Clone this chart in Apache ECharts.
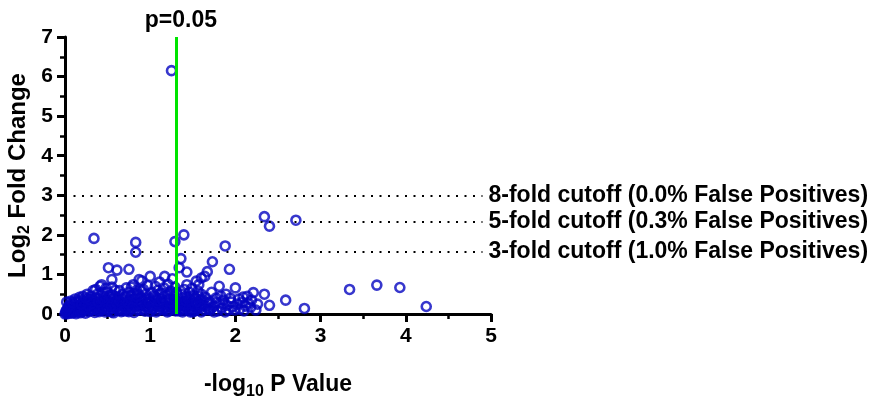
<!DOCTYPE html>
<html>
<head>
<meta charset="utf-8">
<script src="https://cdn.jsdelivr.net/npm/echarts@6/dist/echarts.min.js"></script>
<style>html,body{margin:0;padding:0;background:#fff;overflow:hidden;}#c{width:877px;height:405px;}</style>
</head>
<body>
<div id="c"></div>
<script>
// -log10 P value vs Log2 fold change
var clusterPoints = [
[0.00,0.00],[0.01,0.02],[0.02,0.05],[0.03,0.01],[0.04,0.08],[0.05,0.03],[0.06,0.12],[0.07,0.06],[0.08,0.02],[0.09,0.10],[0.10,0.04],[0.11,0.15],[0.12,0.07],[0.13,0.01],[0.14,0.11],[0.15,0.05],[0.02,0.10],[0.05,0.14],[0.08,0.17],[0.03,0.12],[0.01,0.07],[0.12,0.18],[0.15,0.20],
[0.16,0.09],[0.17,0.22],[0.18,0.03],[0.19,0.14],[0.20,0.27],[0.21,0.08],[0.22,0.18],[0.23,0.32],[0.24,0.02],[0.25,0.12],[0.26,0.24],[0.27,0.38],[0.28,0.06],[0.29,0.17],[0.30,0.29],[0.31,0.45],[0.32,0.10],[0.33,0.21],[0.34,0.34],[0.35,0.04],[0.36,0.15],[0.37,0.27],[0.38,0.50],[0.39,0.09],[0.40,0.20],[0.21,0.45],[0.33,0.59],[0.26,0.50],[0.18,0.35],[0.36,0.62],[0.40,0.38],
[0.41,0.70],[0.42,0.31],[0.43,0.74],[0.44,0.12],[0.45,0.25],[0.46,0.44],[0.47,0.05],[0.48,0.18],[0.49,0.36],[0.50,0.55],[0.51,0.08],[0.52,0.22],[0.53,0.40],[0.54,0.30],[0.55,0.14],[0.56,0.48],[0.57,0.03],[0.58,0.26],[0.59,0.60],[0.60,0.17],[0.61,0.35],[0.62,0.10],[0.63,0.45],[0.64,0.59],[0.65,0.24],[0.66,0.06],[0.67,0.38],[0.68,0.50],[0.69,0.15],[0.70,0.30],[0.44,0.55],[0.48,0.65],[0.55,0.68],
[0.71,0.44],[0.72,0.66],[0.73,0.08],[0.74,0.20],[0.75,0.55],[0.76,0.34],[0.77,0.12],[0.78,0.46],[0.79,0.27],[0.80,0.74],[0.81,0.04],[0.82,0.38],[0.83,0.18],[0.84,0.60],[0.85,0.30],[0.86,0.50],[0.87,0.87],[0.88,0.10],[0.89,0.42],[0.90,0.84],[0.91,0.23],[0.92,0.62],[0.93,0.35],[0.94,0.07],[0.95,0.50],[0.96,0.28],[0.97,0.72],[0.98,0.15],[0.99,0.40],[1.00,0.95],[0.78,0.68],[0.90,0.58],
[1.01,0.30],[1.02,0.55],[1.03,0.12],[1.04,0.45],[1.05,0.22],[1.06,0.70],[1.07,0.05],[1.08,0.36],[1.09,0.60],[1.10,0.18],[1.11,0.81],[1.12,0.40],[1.13,0.28],[1.14,0.52],[1.15,0.10],[1.16,0.66],[1.17,0.95],[1.18,0.33],[1.19,0.20],[1.20,0.48],[1.21,0.75],[1.22,0.08],[1.23,0.38],[1.24,0.58],[1.25,0.25],[1.26,0.89],[1.27,0.15],[1.28,0.44],[1.29,0.68],[1.30,0.30],
[1.31,0.55],[1.32,0.12],[1.33,0.40],[1.34,1.17],[1.35,0.22],[1.36,1.40],[1.37,0.50],[1.38,0.05],[1.39,0.33],[1.40,0.62],[1.41,0.18],[1.42,0.45],[1.43,0.74],[1.43,1.06],[1.44,0.28],[1.45,0.10],[1.46,0.55],[1.47,0.38],[1.48,0.20],[1.49,0.65],[1.50,0.30],[1.51,0.48],[1.52,0.08],[1.53,0.40],[1.54,0.83],[1.55,0.25],[1.56,0.58],[1.57,0.74],[1.58,0.15],[1.59,0.35],[1.60,0.91],[1.60,0.50],
[1.62,0.22],[1.64,0.95],[1.65,0.42],[1.67,1.07],[1.68,0.12],[1.70,0.30],[1.72,0.55],[1.73,1.32],[1.75,0.20],[1.77,0.40],[1.79,0.08],[1.81,0.70],[1.82,0.28],[1.84,0.15],[1.86,0.35],[1.88,1.72],[1.89,0.50],[1.90,0.22],[1.92,0.10],[1.93,1.13],[1.95,0.30],[1.97,0.18],[2.00,0.66],[2.02,0.25],[2.05,0.12],[2.08,0.30],[2.09,0.43],[2.12,0.20],[2.15,0.28],[2.18,0.17],[2.21,0.54],[2.19,0.35],
[0.05,0.22],[0.10,0.25],[0.15,0.28],[0.20,0.05],[0.25,0.33],[0.30,0.10],[0.35,0.22],[0.40,0.06],[0.45,0.15],[0.50,0.28],[0.55,0.05],[0.60,0.30],[0.65,0.12],[0.70,0.20],[0.75,0.06],[0.80,0.25],[0.85,0.10],[0.90,0.32],[0.95,0.18],[1.00,0.06],[1.05,0.30],[1.10,0.10],[1.15,0.25],[1.20,0.05],[1.25,0.15],[1.30,0.08],[1.35,0.30],[1.40,0.10],[1.45,0.22],[1.50,0.05],[1.55,0.12],[1.60,0.05],[1.65,0.20],[1.70,0.10],[1.75,0.05],
[0.02,0.30],[0.07,0.33],[0.12,0.38],[0.17,0.42],[0.22,0.12],[0.27,0.20],[0.32,0.26],[0.37,0.40],[0.42,0.10],[0.47,0.32],[0.52,0.46],[0.57,0.18],[0.62,0.40],[0.67,0.22],[0.72,0.14],[0.77,0.38],[0.82,0.52],[0.87,0.22],[0.92,0.12],[0.97,0.36],[1.02,0.20],[1.07,0.42],[1.12,0.52],[1.17,0.16],[1.22,0.30],[1.27,0.52],[1.32,0.22],[1.37,0.14],[1.42,0.32],[1.47,0.05],[1.52,0.20],[1.57,0.45],[1.62,0.35],[1.67,0.28],[1.72,0.15],[1.78,0.30],[1.83,0.45],[1.88,0.05],[1.94,0.40],[1.99,0.10],[2.04,0.38],[2.10,0.08],[2.14,0.45],[2.24,0.10],[2.26,0.25],
[0.04,0.18],[0.09,0.28],[0.14,0.32],[0.19,0.24],[0.24,0.40],[0.29,0.35],[0.34,0.12],[0.39,0.30],[0.44,0.38],[0.49,0.12],[0.54,0.20],[0.59,0.42],[0.64,0.32],[0.69,0.08],[0.74,0.28],[0.79,0.16],[0.84,0.44],[0.89,0.26],[0.94,0.22],[0.99,0.28],[1.04,0.14],[1.09,0.26],[1.14,0.36],[1.19,0.12],[1.24,0.20],[1.29,0.36],[1.34,0.08],[1.39,0.24],[1.44,0.40],[1.49,0.14],[1.54,0.30],[1.59,0.22],[1.64,0.10]
];
var outlierPoints = [
[1.25,6.15],[0.34,1.91],[0.83,1.81],[0.83,1.56],[1.29,1.83],[1.395,2.00],[2.34,2.46],[2.40,2.22],[2.71,2.37],
[2.34,0.50],[2.40,0.22],[2.59,0.35],[2.81,0.14],[3.34,0.62],[3.66,0.73],[3.93,0.67],[4.24,0.19],
[0.51,1.17],[0.61,1.11],[0.75,1.13],[0.55,0.87]
];
var xTicks = [0, 1, 2, 3, 4, 5];
var yTicks = [0, 1, 2, 3, 4, 5, 6, 7];
var pCutoff = 1.301;          // -log10(0.05)
var pLabel = 'p=0.05';
var foldCutoffs = [3, 2.3219, 1.585];   // log2(8), log2(5), log2(3)
var cutoffLabels = ['8-fold cutoff (0.0% False Positives)', '5-fold cutoff (0.3% False Positives)', '3-fold cutoff (1.0% False Positives)'];
var cutoffLineEnd = 4.9;

var FONT = '"Liberation Sans", Arial, sans-serif';
var BLUE = '#0505c0';
var chart = echarts.init(document.getElementById('c'), null, {renderer: 'canvas', width: 877, height: 405});

function axisCommon(ticks) {
  return {
    type: 'value', min: ticks[0], max: ticks[ticks.length - 1], interval: 1,
    axisLine: {show: true, onZero: false, lineStyle: {color: '#000', width: 3}},
    axisTick: {show: true, inside: false, length: 8, lineStyle: {color: '#000', width: 3}},
    minorTick: {show: true, splitNumber: 2, length: 5, lineStyle: {color: '#000', width: 2.5}},
    splitLine: {show: false},
    axisLabel: {fontFamily: FONT, fontWeight: 'bold', fontSize: 21, color: '#000', margin: 12}
  };
}
var xAxis = axisCommon(xTicks);
xAxis.name = '{b|-log}{s|10}{b| P Value}';
xAxis.nameLocation = 'middle';
xAxis.nameGap = 56;
xAxis.nameTextStyle = {rich: {
  b: {fontFamily: FONT, fontWeight: 'bold', fontSize: 23, color: '#000', lineHeight: 30},
  s: {fontFamily: FONT, fontWeight: 'bold', fontSize: 16, color: '#000', lineHeight: 15, verticalAlign: 'bottom'}
}};
var yAxis = axisCommon(yTicks);
yAxis.name = '{b|Log}{s|2}{b| Fold Change}';
yAxis.nameLocation = 'middle';
yAxis.nameGap = 32;
yAxis.nameTextStyle = {rich: {
  b: {fontFamily: FONT, fontWeight: 'bold', fontSize: 24, color: '#000', lineHeight: 30},
  s: {fontFamily: FONT, fontWeight: 'bold', fontSize: 16, color: '#000', lineHeight: 15, verticalAlign: 'bottom'}
}};

var cutoffData = foldCutoffs.map(function (v, i) {
  return [{name: cutoffLabels[i], coord: [0, v]}, {name: cutoffLabels[i], coord: [cutoffLineEnd, v]}];
});

var scatterStyle = {color: 'rgba(0,0,0,0)', borderColor: BLUE, borderWidth: 2.6};

chart.setOption({
  animation: false,
  backgroundColor: '#fff',
  grid: {left: 65, width: 426, top: 37, height: 283, containLabel: false},
  xAxis: xAxis,
  yAxis: yAxis,
  series: [
    {
      type: 'scatter', data: [], z: 1, silent: true,
      markLine: {
        silent: true, symbol: ['none', 'none'], animation: false,
        lineStyle: {color: '#000', width: 2.2, type: [2, 6.5]},
        label: {show: true, position: 'end', distance: 6, formatter: '{b}', fontFamily: FONT, fontWeight: 'bold', fontSize: 23, color: '#000'},
        emphasis: {disabled: true},
        data: cutoffData
      }
    },
    {
      type: 'scatter', data: [], z: 1, silent: true,
      markLine: {
        silent: true, symbol: ['none', 'none'], animation: false,
        lineStyle: {color: '#00e400', width: 3, type: 'solid'},
        label: {show: true, position: 'end', distance: 5, offset: [5, 0], formatter: pLabel, fontFamily: FONT, fontWeight: 'bold', fontSize: 23, color: '#000'},
        emphasis: {disabled: true},
        data: [[{coord: [pCutoff, yTicks[0]]}, {coord: [pCutoff, yTicks[yTicks.length - 1]]}]]
      }
    },
    {
      type: 'scatter', z: 3, symbol: 'circle', symbolSize: 9,
      itemStyle: scatterStyle, emphasis: {disabled: true},
      data: clusterPoints
    },
    {
      type: 'scatter', z: 3, symbol: 'circle', symbolSize: 9,
      itemStyle: scatterStyle, emphasis: {disabled: true},
      data: outlierPoints
    }
  ]
});
</script>
</body>
</html>
